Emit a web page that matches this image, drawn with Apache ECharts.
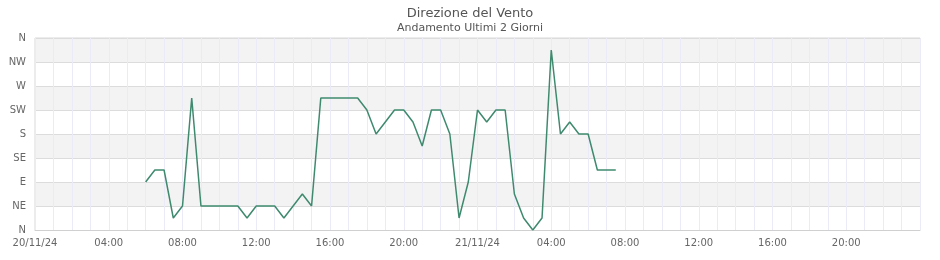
<!DOCTYPE html>
<html>
<head>
<meta charset="utf-8">
<script src="https://cdn.jsdelivr.net/npm/echarts@6/dist/echarts.min.js"></script>
<style>html,body{margin:0;padding:0;background:#fff}#c{width:940px;height:260px}</style>
</head>
<body>
<div id="c"></div>
<script>
// Hours since 20/11/24 00:00
var hours = [6, 6.5, 7, 7.5, 8, 8.5, 9, 9.5, 10, 10.5, 11, 11.5, 12, 12.5, 13, 13.5, 14, 14.5, 15, 15.5,
  16, 16.5, 17, 17.5, 18, 18.5, 19, 19.5, 20, 20.5, 21, 21.5, 22, 22.5, 23, 23.5, 24, 24.5, 25, 25.5,
  26, 26.5, 27, 27.5, 28, 28.5, 29, 29.5, 30, 30.5, 31, 31.5];
var direction = [90, 112.5, 112.5, 22.5, 45, 247.5, 45, 45, 45, 45, 45, 22.5, 45, 45, 45, 22.5, 45, 67.5, 45, 247.5,
  247.5, 247.5, 247.5, 247.5, 225, 180, 202.5, 225, 225, 202.5, 157.5, 225, 225, 180, 22.5, 90, 225, 202.5, 225, 225,
  67.5, 22.5, 0, 22.5, 337.5, 180, 202.5, 180, 180, 112.5, 112.5, 112.5];
var yLabels = ['N', 'NE', 'E', 'SE', 'S', 'SW', 'W', 'NW', 'N'];
var xLabels = {0: '20/11/24', 4: '04:00', 8: '08:00', 12: '12:00', 16: '16:00', 20: '20:00',
  24: '21/11/24', 28: '04:00', 32: '08:00', 36: '12:00', 40: '16:00', 44: '20:00'};
var titleText = 'Direzione del Vento';
var subtitleText = 'Andamento Ultimi 2 Giorni';

var chart = echarts.init(document.getElementById('c'), null, {renderer: 'canvas'});
var font = 'DejaVu Sans, Verdana, sans-serif';
chart.setOption({
  animation: false,
  title: {
    text: titleText, subtext: subtitleText, left: 'center', top: 2, itemGap: 3,
    textStyle: {fontFamily: font, fontSize: 13, fontWeight: 'normal', color: '#555'},
    subtextStyle: {fontFamily: font, fontSize: 11, color: '#555'}
  },
  grid: {left: 35, right: 20, top: 38, bottom: 30, show: true, borderColor: '#d8d8d8', borderWidth: 1, backgroundColor: 'transparent'},
  xAxis: {
    type: 'value', min: 0, max: 48, interval: 1,
    axisLine: {show: true, lineStyle: {color: '#d0d0d0'}},
    axisTick: {show: false},
    axisLabel: {
      fontFamily: font, fontSize: 10, color: '#666', margin: 8,
      formatter: function (v) { return xLabels[v] !== undefined ? xLabels[v] : ''; },
      showMaxLabel: false
    },
    splitLine: {show: true, lineStyle: {color: '#ebebf8', width: 1}}
  },
  yAxis: {
    type: 'value', min: 0, max: 360, interval: 45,
    axisLine: {show: false}, axisTick: {show: false},
    axisLabel: {
      fontFamily: font, fontSize: 10, color: '#666', margin: 9,
      formatter: function (v) { return yLabels[Math.round(v / 45)]; }
    },
    splitLine: {show: true, lineStyle: {color: '#dcdcdc', width: 1}},
    splitArea: {show: true, areaStyle: {color: ['#ffffff', '#f3f3f3']}}
  },
  series: [{
    type: 'line',
    data: hours.map(function (h, i) { return [h, direction[i]]; }),
    showSymbol: false, symbol: 'none',
    lineStyle: {color: '#3f8a6f', width: 1.5},
    itemStyle: {color: '#3f8a6f'}
  }]
});
</script>
</body>
</html>
